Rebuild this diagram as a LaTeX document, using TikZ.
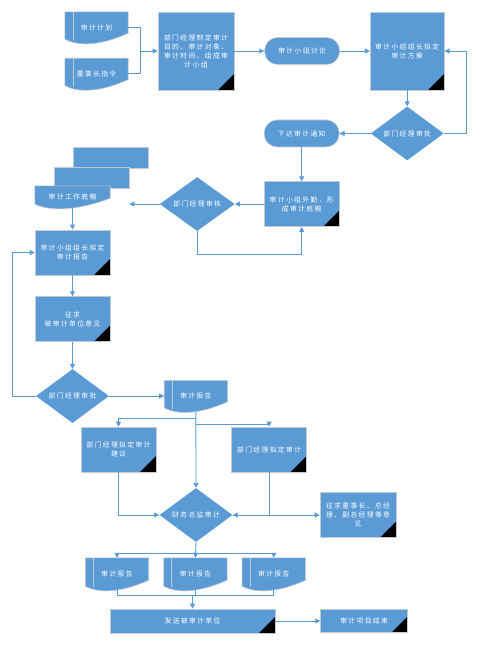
\documentclass[tikz,border=0pt]{standalone}
\usepackage{fontspec}
\newfontfamily\cjk[LetterSpace=20]{Noto Sans CJK SC}
\usetikzlibrary{shapes.geometric,arrows.meta,positioning,backgrounds,calc}
\definecolor{flowblue}{HTML}{5B9BD5}
\definecolor{edgegray}{HTML}{C3CAD2}
\definecolor{lineblue}{HTML}{5B9BD5}
\tikzset{
  txt/.style={font=\cjk\fontsize{6.8pt}{9pt}\selectfont, text=white, align=center, inner sep=1pt},
  proc/.style={txt, rectangle, fill=flowblue, draw=edgegray, line width=0.6pt, minimum width=75pt, minimum height=45pt,
    path picture={\fill[black] (path picture bounding box.south east) -- ++(-16pt,0pt) -- ++(16pt,16pt) -- cycle;}},
  pill/.style={txt, rectangle, rounded corners=13pt, fill=flowblue, draw=edgegray, line width=0.6pt, minimum width=75pt, minimum height=27pt},
  check/.style={txt, diamond, fill=flowblue, minimum width=73pt, minimum height=44pt, inner sep=0pt},
  doc/.style={txt, rectangle, minimum width=63pt, minimum height=31pt},
  docfill/.style={fill=flowblue, draw=edgegray, line width=0.6pt},
  sheet/.style={docfill, rectangle, minimum width=75pt, minimum height=21pt},
  link/.style={draw=lineblue, line width=0.9pt},
  arr/.style={link, -{Triangle[length=5pt,width=5pt]}}
}
% document shape: text node plus wavy body behind it
\newcommand\docnode[3]{%
  \node[doc,#2] (#1) {#3};
  \begin{scope}[on background layer]
    \path[docfill] (#1.north west) -- (#1.north east) -- ([yshift=10pt]#1.south east)
      .. controls ($(#1.south west)!0.55!(#1.south east)+(0,-3pt)$) and ($(#1.south west)!0.2!(#1.south east)+(0,-3pt)$)
      .. ([yshift=4pt]#1.south west) -- cycle;
  \end{scope}}
\newcommand\docstrip[1]{\draw[edgegray, line width=0.6pt] ([xshift=8pt]#1.north west) -- ([xshift=8pt,yshift=3pt]#1.south west);}

\begin{document}
\begin{tikzpicture}[x=1pt, y=-1pt]
\useasboundingbox (0,0) rectangle (486,646);

% top row
\docnode{plan}{at={(96.5,27.5)}}{审计计划}\docstrip{plan}
\docnode{order}{below=15pt of plan}{董事长指令}\docstrip{order}
\node[proc, minimum width=76pt, minimum height=78pt] (mgrplan) at (196,51) {部门经理制定审计\\目的、审计对象、\\审计时间、组成审\\计小组};
\node[pill, right=30pt of mgrplan] (discuss) {审计小组讨论};
\node[proc, minimum width=74pt, minimum height=78pt, right=30pt of discuss] (leaderplan) {审计小组组长拟定\\审计方案};
\node[check, below=16pt of leaderplan] (approve1) {部门经理审批};
\node[pill, left=31pt of approve1] (notice) {下达审计通知};
\node[proc, below=34pt of notice] (field) {审计小组外勤，形\\成审计底稿};
\node[check, minimum width=75pt, minimum height=45pt, left=29pt of field] (review) {部门经理审核};

% working papers
\begin{scope}[on background layer]
\node[sheet] (workC) at (110.5,157.5) {};
\node[sheet] (workB) at (91.5,177.5) {};
\end{scope}
\docnode{work}{at={(72.5,197)}, minimum width=75pt, minimum height=22pt}{审计工作底稿}

% left column
\node[proc] (leaderreport) at (72.5,252.5) {审计小组组长拟定\\审计报告};
\node[proc, below=21pt of leaderreport] (opinion) {征求\\被审计单位意见};
\node[check, below=27pt of opinion] (approve2) {部门经理审批};
\docnode{report}{right=55pt of approve2}{审计报告}\docstrip{report}

% lower part
\node[proc] (suggest) at (118.5,449.5) {部门经理拟定审计\\建议};
\node[proc, right=75pt of suggest] (mgrdraft) {部门经理拟定审计};
\node[check] (cfo) at (196,515) {财务总监审计};
\node[proc, minimum width=76pt, right=87pt of cfo] (opinions) {征求董事长、总经\\理、副总经理等意\\见};
\docnode{rep1}{at={(117,574)}, minimum height=32pt}{审计报告}\docstrip{rep1}
\docnode{rep2}{right=15pt of rep1, minimum height=32pt}{审计报告}\docstrip{rep2}
\docnode{rep3}{right=15pt of rep2, minimum height=32pt}{审计报告}\docstrip{rep3}
\node[proc, minimum width=165pt, minimum height=24pt] (send) at (192.5,621) {发送被审计单位};
\node[proc, minimum width=87pt, minimum height=23pt, right=45pt of send] (finish) {审计项目结束};

% connectors
\coordinate (joinA) at (140,51);
\draw[link] (plan.east) -| (joinA);
\draw[link] (order.east) -| (joinA);
\draw[arr] (joinA) -- (mgrplan.west);
\draw[arr] (mgrplan) -- (discuss);
\draw[arr] (discuss) -- (leaderplan);
\draw[arr] (leaderplan) -- (approve1);
\draw[arr] (approve1.east) -- ++(23,0) |- (leaderplan.east);
\draw[arr] (approve1) -- (notice);
\draw[arr] (notice) -- (field);
\draw[arr] (field) -- (review);
\draw[arr] (review.south) -- ++(0,23) -| (field.south);
\draw[arr] (review.west) -- (workB.east |- review.west);
\draw[arr] (work.south) -- (leaderreport.north);
\draw[arr] (leaderreport) -- (opinion);
\draw[arr] (opinion) -- (approve2);
\draw[arr] (approve2.west) -- ++(-23,0) |- (leaderreport.west);
\draw[arr] (approve2) -- (report);

\coordinate (splitA) at ($(report.south)+(0,7)$);
\coordinate (splitB) at ($(report.south)+(0,13)$);
\draw[arr] (report.south) -- (cfo.north);
\draw[arr] (splitA) -| (suggest.north);
\draw[arr] (splitB) -| (mgrdraft.north);
\draw[arr] (suggest.south) |- (cfo.west);
\draw[arr] (mgrdraft.south) |- (cfo.east);
\draw[arr] (cfo.east) -- (opinions.west);

\coordinate (splitC) at ($(cfo.south)+(0,11)$);
\draw[arr] (cfo.south) -- (rep2.north);
\draw[arr] (splitC) -| (rep1.north);
\draw[arr] (splitC) -| (rep3.north);
\coordinate (joinB) at ($(send.north)+(0,-13)$);
\draw[link] (rep1.south) |- (joinB);
\draw[link] (rep3.south) |- (joinB);
\draw[link] (rep2.south) -- (rep2.south |- joinB);
\draw[arr] (joinB) -- (send.north);
\draw[arr] (send) -- (finish);
\end{tikzpicture}
\end{document}
